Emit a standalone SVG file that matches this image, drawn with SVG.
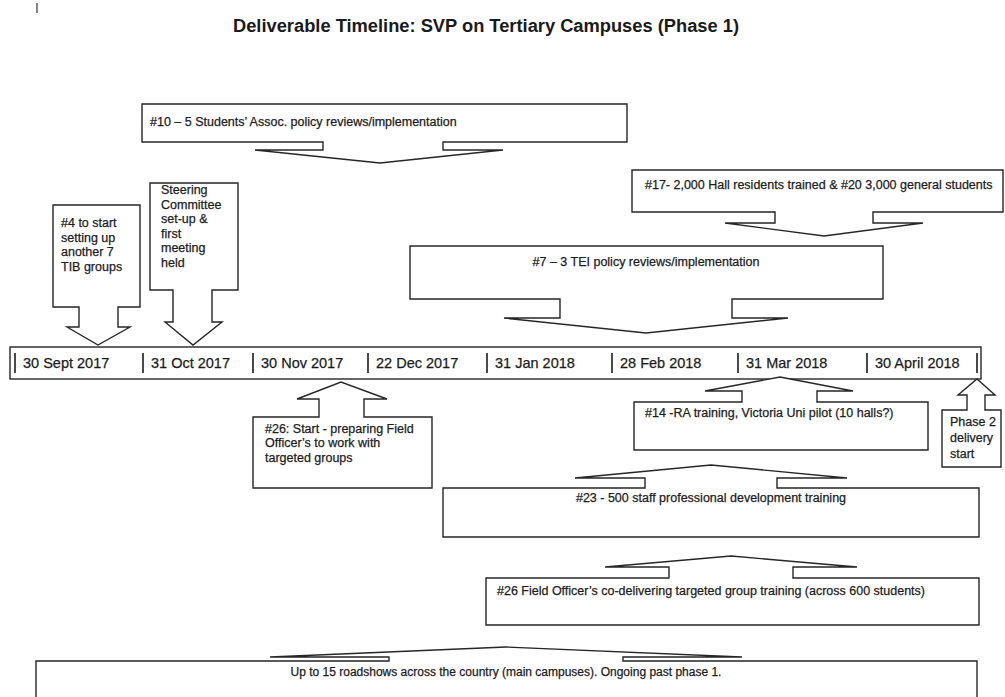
<svg xmlns="http://www.w3.org/2000/svg" width="1005" height="697" viewBox="0 0 1005 697">
<style>
.shape{fill:#fff;stroke:#262626;stroke-width:1.4;stroke-linejoin:miter}
.t{font-family:"Liberation Sans",Arial,sans-serif;font-size:12.5px;fill:#1c1c1c;stroke:#1c1c1c;stroke-width:0.25}
.d{font-family:"Liberation Sans",Arial,sans-serif;font-size:14.5px;fill:#1c1c1c;stroke:#1c1c1c;stroke-width:0.25}
.c{text-anchor:middle}
.bar{stroke:#1c1c1c;stroke-width:1.6}
.title{font-family:"Liberation Sans",Arial,sans-serif;font-size:18.3px;font-weight:bold;fill:#1a1a1a;text-anchor:middle}
</style>
<rect width="1005" height="697" fill="#fff"/>
<line x1="37" y1="3" x2="37" y2="13" stroke="#333" stroke-width="1.2"/>
<text class="title" x="486" y="32">Deliverable Timeline: SVP on Tertiary Campuses (Phase 1)</text>

<g id="connectors"></g>

<g id="n10">
<path class="shape" d="M142,104 H627 V142 H443 V150 H503 L380,163 L255,150 H323 V142 H142 Z"/>
<text class="t" x="150" y="126">#10 – 5 Students’ Assoc. policy reviews/implementation</text>
</g>

<g id="n17">
<path class="shape" d="M632,170 H1003 V212 H873 V223 H923 L824,236 L725,223 H775 V212 H632 Z"/>
<text class="t" x="645" y="189">#17- 2,000 Hall residents trained &amp; #20 3,000 general students</text>
</g>

<g id="n4">
<path class="shape" d="M53,205 H140 V307 H118 V327 H130 L98,345 L67,327 H79 V307 H53 Z"/>
<text class="t" x="61" y="227">#4 to start</text>
<text class="t" x="61" y="241.5">setting up</text>
<text class="t" x="61" y="256">another 7</text>
<text class="t" x="61" y="270.5">TIB groups</text>
</g>

<g id="steering">
<path class="shape" d="M150,183 H238 V290 H212 V322 H222 L193,345 L165,322 H173 V290 H150 Z"/>
<text class="t" x="161" y="194">Steering</text>
<text class="t" x="161" y="208.5">Committee</text>
<text class="t" x="161" y="223">set-up &amp;</text>
<text class="t" x="161" y="237.5">first</text>
<text class="t" x="161" y="252">meeting</text>
<text class="t" x="161" y="266.5">held</text>
</g>

<g id="n7">
<path class="shape" d="M410,246 H883 V299 H732 V318 H788 L646,333 L504,318 H560 V299 H410 Z"/>
<text class="t c" x="646" y="266">#7 – 3 TEI policy reviews/implementation</text>
</g>

<g id="timeline">
<rect class="shape" x="10" y="347" width="971" height="32"/>
<line class="bar" x1="15" y1="353" x2="15" y2="373"/>
<line class="bar" x1="143" y1="353" x2="143" y2="373"/>
<line class="bar" x1="253" y1="353" x2="253" y2="373"/>
<line class="bar" x1="368" y1="353" x2="368" y2="373"/>
<line class="bar" x1="487" y1="353" x2="487" y2="373"/>
<line class="bar" x1="612" y1="353" x2="612" y2="373"/>
<line class="bar" x1="738" y1="353" x2="738" y2="373"/>
<line class="bar" x1="867" y1="353" x2="867" y2="373"/>
<line class="bar" x1="977" y1="353" x2="977" y2="373"/>
<text class="d" x="23" y="368">30 Sept 2017</text>
<text class="d" x="151" y="368">31 Oct 2017</text>
<text class="d" x="261" y="368">30 Nov 2017</text>
<text class="d" x="376" y="368">22 Dec 2017</text>
<text class="d" x="495" y="368">31 Jan 2018</text>
<text class="d" x="620" y="368">28 Feb 2018</text>
<text class="d" x="746" y="368">31 Mar 2018</text>
<text class="d" x="875" y="368">30 April 2018</text>
</g>

<g id="n26start">
<path class="shape" d="M253,488 H432 V417 H364 V399 H387 L341,382 L297,399 H319 V417 H253 Z"/>
<text class="t" x="265" y="432.5">#26: Start - preparing Field</text>
<text class="t" x="265" y="447">Officer’s to work with</text>
<text class="t" x="265" y="461.5">targeted groups</text>
</g>

<g id="n14">
<path class="shape" d="M634,450 H928 V402 H817 V391 H853 L780,377 L705,391 H742 V402 H634 Z"/>
<text class="t" x="645" y="417">#14 -RA training, Victoria Uni pilot (10 halls?)</text>
</g>

<g id="phase2">
<path class="shape" d="M942,467 H1001 V410 H985 V395 H995 L977,379 L958,395 H967 V410 H942 Z"/>
<text class="t" x="950" y="425.5">Phase 2</text>
<text class="t" x="950" y="441.5">delivery</text>
<text class="t" x="950" y="457.5">start</text>
</g>

<g id="n23">
<path class="shape" d="M443,537 H979 V488 H777 V478 H847 L711,465 L575,478 H645 V488 H443 Z"/>
<text class="t c" x="711" y="502">#23 - 500 staff professional development training</text>
</g>

<g id="n26deliver">
<path class="shape" d="M486,625 H979 V578 H793 V567 H857 L731,556 L605,567 H669 V578 H486 Z"/>
<text class="t" x="497" y="595">#26 Field Officer’s co-delivering targeted group training (across 600 students)</text>
</g>

<g id="roadshows">
<path class="shape" d="M36,702 V661 H389 V657 H270 L506,647 L742,657 H623 V661 H977 V702"/>
<text class="t c" x="506" y="676" style="font-size:12px">Up to 15 roadshows across the country (main campuses). Ongoing past phase 1.</text>
</g>
</svg>
